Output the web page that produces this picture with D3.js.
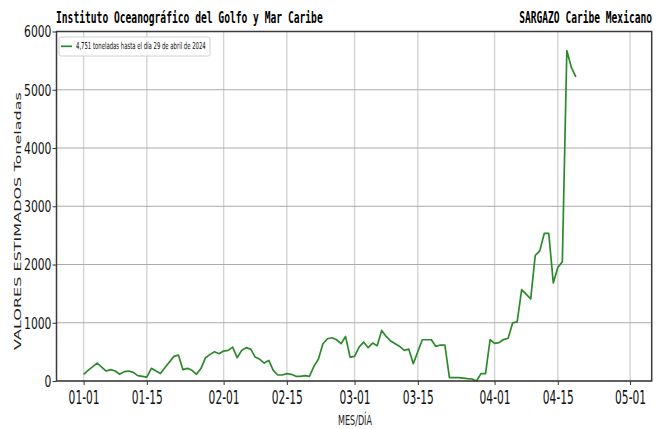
<!DOCTYPE html>
<html><head><meta charset="utf-8">
<script src="https://cdn.jsdelivr.net/npm/d3@7"></script>
<style>body{margin:0;background:#fff}svg{display:block}</style>
</head><body><svg id="c" width="660" height="429"></svg>
<script>
const dates = ["2024-01-01","2024-01-02","2024-01-04","2024-01-06","2024-01-07","2024-01-08","2024-01-09","2024-01-10","2024-01-11","2024-01-12","2024-01-13","2024-01-15","2024-01-16","2024-01-18","2024-01-19","2024-01-21","2024-01-22","2024-01-23","2024-01-24","2024-01-25","2024-01-26","2024-01-27","2024-01-28","2024-01-29","2024-01-30","2024-01-31",
"2024-02-01","2024-02-02","2024-02-03","2024-02-04","2024-02-05","2024-02-06","2024-02-07","2024-02-08","2024-02-09","2024-02-10","2024-02-11","2024-02-12","2024-02-13","2024-02-14","2024-02-15","2024-02-16","2024-02-17","2024-02-18","2024-02-19","2024-02-20","2024-02-21","2024-02-22","2024-02-23","2024-02-24","2024-02-25","2024-02-26","2024-02-27","2024-02-28","2024-02-29",
"2024-03-01","2024-03-02","2024-03-03","2024-03-04","2024-03-05","2024-03-06","2024-03-07","2024-03-08","2024-03-09","2024-03-10","2024-03-11","2024-03-12","2024-03-13","2024-03-14","2024-03-16","2024-03-18","2024-03-19","2024-03-20","2024-03-21","2024-03-22","2024-03-24","2024-03-25","2024-03-26","2024-03-27","2024-03-28","2024-03-29","2024-03-30","2024-03-31",
"2024-04-01","2024-04-02","2024-04-03","2024-04-04","2024-04-05","2024-04-06","2024-04-07","2024-04-09","2024-04-10","2024-04-11","2024-04-12","2024-04-13","2024-04-14","2024-04-15","2024-04-16","2024-04-17","2024-04-18","2024-04-19"];
const values = [115,183,308,171,195,171,115,161,171,149,92,68,217,127,229,423,445,195,217,183,115,217,400,457,503,469,
514,526,582,400,526,572,548,411,372,308,354,183,103,103,127,115,80,80,92,80,251,377,640,726,743,708,640,765,411,
423,582,668,572,651,606,868,765,685,640,594,526,548,298,708,708,594,617,617,58,58,50,41,34,0,127,127,708,
647,660,711,734,997,1014,1570,1409,2155,2234,2533,2533,1684,1948,2045,5670,5385,5223];
const yTicks = [0,1000,2000,3000,4000,5000,6000];
const xTickDates = ["2024-01-01","2024-01-15","2024-02-01","2024-02-15","2024-03-01","2024-03-15","2024-04-01","2024-04-15","2024-05-01"];
const xTickLabels = ["01-01","01-15","02-01","02-15","03-01","03-15","04-01","04-15","05-01"];
const legendLabel = "4,751 toneladas hasta el día 29 de abril de 2024";
const titleLeft = "Instituto Oceanográfico del Golfo y Mar Caribe";
const titleRight = "SARGAZO Caribe Mexicano";
const xLabel = "MES/DÍA";
const yLabel = "VALORES ESTIMADOS Toneladas";

const svg = d3.select("#c");
const L=56.5, R=651.7, T=31.5, B=381;
const parse = d3.utcParse("%Y-%m-%d");
const x = d3.scaleUtc().domain([new Date(Date.UTC(2023,11,26)), new Date(Date.UTC(2024,4,5,19))]).range([L,R]);
const y = d3.scaleLinear().domain([0,6000]).range([B,T]);
const SANS = "DejaVu Sans, sans-serif";
const MONO = "DejaVu Sans Mono, monospace";

// text placed at (tx,ty) squeezed horizontally to a target width
function fitText(parent, str, tx, ty, opts){
  const g = parent.append("g").attr("transform", `translate(${tx},${ty})`);
  const t = g.append("text").text(str)
    .attr("font-family", opts.family).attr("font-size", opts.size)
    .attr("font-weight", opts.weight||"normal")
    .attr("fill", opts.fill||"#000")
    .attr("text-anchor", opts.anchor||"start");
  const n = t.node().getComputedTextLength();
  const k = opts.width ? opts.width/n : 1;
  t.attr("transform", `scale(${k},1)`);
  return {g,t,k};
}

// grid
svg.append("g").selectAll("line").data(xTickDates).join("line")
  .attr("x1", d=>x(parse(d))).attr("x2", d=>x(parse(d)))
  .attr("y1", T).attr("y2", B).attr("stroke", "#d4d4d4").attr("stroke-width", 1.4);
svg.append("g").selectAll("line").data(yTicks).join("line")
  .attr("x1", L).attr("x2", R).attr("y1", d=>y(d)).attr("y2", d=>y(d))
  .attr("stroke", "#ababab").attr("stroke-width", 1);

// line
const pts = dates.map((d,i)=>({d:parse(d), v:values[i]}));
svg.append("path").datum(pts)
  .attr("fill","none").attr("stroke","#2b8a2b").attr("stroke-width",1.7)
  .attr("stroke-linejoin","round")
  .attr("d", d3.line().x(p=>x(p.d)).y(p=>y(p.v)));

// frame
svg.append("rect").attr("x",L).attr("y",T).attr("width",R-L).attr("height",B-T)
  .attr("fill","none").attr("stroke","#3a3a3a").attr("stroke-width",1.5);

// axes
const xAxis = svg.append("g").attr("transform",`translate(0,${B})`)
  .call(d3.axisBottom(x).tickValues(xTickDates.map(parse)).tickFormat((d,i)=>xTickLabels[i]).tickSize(4).tickPadding(5));
xAxis.select(".domain").remove();
xAxis.selectAll("line").attr("stroke","#333").attr("stroke-width",1);
xAxis.selectAll("text").attr("font-family",SANS).attr("font-size",20).attr("fill","#111");
{
  const n = xAxis.select("text").node().getComputedTextLength();
  const k = 31/n;
  xAxis.selectAll("text").attr("transform",`scale(${k},1)`);
}
const yAxis = svg.append("g").attr("transform",`translate(${L},0)`)
  .call(d3.axisLeft(y).tickValues(yTicks).tickFormat(d3.format("d")).tickSize(4).tickPadding(0));
yAxis.select(".domain").remove();
yAxis.selectAll("line").attr("stroke","#333").attr("stroke-width",1);
yAxis.selectAll("text").attr("font-family",SANS).attr("font-size",16.5).attr("fill","#111");
{
  const last = yAxis.selectAll("text").nodes().slice(-1)[0];
  const k = 27.5/last.getComputedTextLength();
  yAxis.selectAll("text").attr("x",0).attr("transform",`translate(-5,0) scale(${k},1)`);
}

// titles
fitText(svg, titleLeft, 56, 22.5, {family:MONO, size:15, weight:"bold", width:267});
fitText(svg, titleRight, 652, 22.5, {family:MONO, size:15, weight:"bold", width:133, anchor:"end"});

// axis labels
fitText(svg, xLabel, 355, 424.5, {family:SANS, size:14, width:34, anchor:"middle", fill:"#222"});
{
  const g = svg.append("g").attr("transform","translate(21,221)");
  const t = g.append("text").text(yLabel).attr("font-family",SANS).attr("font-size",14.5)
    .attr("fill","#222").attr("text-anchor","middle");
  const n = t.node().getComputedTextLength();
  const ky = 258/n;
  g.attr("transform",`translate(21,221) scale(0.62,${ky}) rotate(-90)`);
}

// legend
const lg = svg.append("g");
lg.append("rect").attr("x",59).attr("y",37).attr("width",151).attr("height",19).attr("rx",2)
  .attr("fill","#fff").attr("fill-opacity",0.8).attr("stroke","#d0d0d0").attr("stroke-width",1);
lg.append("line").attr("x1",61).attr("x2",72).attr("y1",46.3).attr("y2",46.3)
  .attr("stroke","#2b8a2b").attr("stroke-width",1.7);
fitText(lg, legendLabel, 76, 49, {family:SANS, size:9.5, width:130, fill:"#111"});
</script></body></html>
